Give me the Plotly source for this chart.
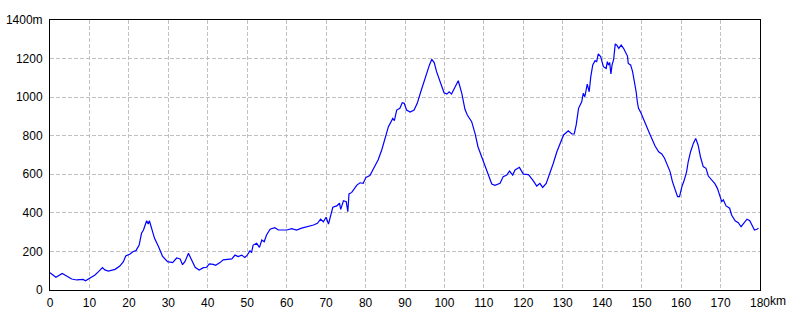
import plotly.graph_objects as go

distance_km = [
    0, 1.5, 3.1, 3.8, 5.5, 6.8, 8.4, 9.0, 10, 11.4, 12.3, 13.3, 13.9, 14.8, 16.5, 17.7,
    18.6, 19.2, 20.3, 21.1, 21.8, 22.6, 23.2, 23.7, 24.5, 24.9, 25.2, 25.8, 26.5, 27.5,
    28.5, 29.8, 31.1, 32.1, 33.0, 33.6, 34.2, 35.1, 35.9, 36.8, 37.8, 38.9, 39.7, 40.4,
    41.4, 42.0, 43.1, 43.9, 46.1, 46.9, 47.7, 48.6, 49.4, 50.0, 50.7, 51.1, 51.5, 52.4,
    53.1, 53.7, 54.3, 54.9, 55.8, 57.0, 57.9, 60.0, 61.3, 62.5, 63.8, 65.5, 66.8, 67.8,
    68.6, 69.3, 70.0, 70.6, 71.2, 71.7, 72.7, 73.4, 73.7, 74.4, 75.1, 75.5, 75.8, 76.5,
    77.8, 78.6, 79.4, 80.1, 81.1, 82.0, 83.2, 84.1, 84.9, 85.8, 86.9, 87.3, 87.9, 88.7,
    89.3, 89.8, 90.4, 91.3, 92.3, 93.1, 94.0, 94.8, 95.5, 96.2, 96.8, 97.4, 98.0, 98.9,
    99.9, 100.6, 101.2, 101.8, 102.7, 103.5, 104.4, 105.2, 105.8, 106.9, 107.8, 108.5,
    109.5, 110.3, 111.1, 112.0, 112.8, 114.1, 114.9, 115.8, 116.5, 117.3, 117.9, 119.0,
    120.0, 121.3, 122.4, 123.4, 124.2, 124.9, 125.8, 126.8, 127.6, 128.5, 129.3, 130.2,
    131.4, 132.3, 132.9, 133.4, 134.0, 134.8, 135.2, 135.6, 136.2, 136.7, 137.1, 137.6,
    138.2, 138.6, 139.0, 139.6, 140.3, 141.0, 141.3, 141.6, 141.9, 142.2, 142.5, 142.9,
    143.3, 143.7, 144.2, 144.8, 145.4, 145.8, 146.4, 146.6, 147.2, 147.7, 148.1, 148.6,
    148.9, 149.2, 149.8, 150.4, 151.1, 152.0, 152.7, 153.4, 154.3, 155.1, 155.8, 156.6,
    157.2, 157.8, 158.5, 159.1, 159.6, 160.2, 160.8, 161.4, 161.8, 162.4, 163.1, 163.7,
    164.3, 164.9, 165.6, 166.3, 166.9, 167.7, 168.6, 169.2, 169.9, 170.3, 170.7, 171.4,
    172.3, 172.8, 173.7, 174.5, 175.2, 175.8, 176.7, 177.4, 178.0, 178.6, 179.2, 179.6,
]

elevation_m = [
    90, 66, 86, 78, 57, 52, 55, 48, 59, 78, 95, 116, 104, 98, 107, 124,
    147, 176, 187, 200, 204, 233, 294, 311, 359, 342, 359, 320, 268, 225,
    176, 147, 142, 166, 161, 131, 147, 190, 156, 118, 104, 116, 118, 135,
    133, 128, 142, 156, 161, 181, 173, 181, 169, 181, 204, 194, 233, 242,
    221, 259, 250, 285, 315, 323, 311, 311, 318, 311, 321, 328, 337, 346,
    367, 354, 377, 342, 398, 429, 436, 450, 418, 463, 458, 406, 498, 506,
    544, 556, 553, 584, 593, 630, 675, 726, 786, 847, 890, 878, 933, 942,
    971, 968, 933, 923, 933, 968, 1028, 1080, 1132, 1167, 1196, 1179, 1132, 1080,
    1023, 1016, 1028, 1016, 1054, 1085, 1020, 937, 907, 873, 808, 743,
    687, 644, 605, 550, 543, 553, 588, 596, 617, 596, 622, 636,
    601, 598, 570, 539, 553, 532, 553, 605, 657, 717, 760, 804,
    826, 809, 809, 856, 942, 976, 1020, 1002, 1068, 1028, 1106, 1167,
    1189, 1184, 1224, 1210, 1158, 1149, 1184, 1167, 1179, 1120, 1167, 1196,
    1276, 1270, 1253, 1270, 1253, 1236, 1213, 1175, 1167, 1132, 1089, 1028,
    976, 942, 919, 885, 856, 812, 781, 747, 717, 705, 683, 648,
    614, 562, 515, 484, 484, 536, 570, 614, 665, 717, 760, 786,
    752, 691, 640, 631, 591, 570, 550, 527, 475, 458, 467, 436,
    424, 389, 359, 349, 328, 346, 367, 359, 332, 311, 315, 320,
]

x_tick_vals = [0, 10, 20, 30, 40, 50, 60, 70, 80, 90, 100, 110, 120, 130, 140, 150, 160, 170, 180]
x_tick_text = ["0", "10", "20", "30", "40", "50", "60", "70", "80", "90", "100", "110",
               "120", "130", "140", "150", "160", "170", "180"]
y_tick_vals = [0, 200, 400, 600, 800, 1000, 1200, 1400]
y_tick_text = ["0", "200", "400", "600", "800", "1000", "1200", "1400m"]
x_unit = "km"

font = dict(family="Liberation Sans, Arial, sans-serif", size=12, color="#000000")

fig = go.Figure()
fig.add_trace(go.Scatter(
    x=distance_km, y=elevation_m, mode="lines",
    line=dict(color="#0000ff", width=1.2),
    hoverinfo="skip", showlegend=False,
))

axis_common = dict(
    showgrid=True, gridcolor="#c0c0c0", gridwidth=1, griddash="4px,2px",
    showline=True, linecolor="#000000", linewidth=1, mirror=True,
    ticks="", zeroline=False, tickfont=font, fixedrange=True, automargin=False,
)

fig.update_xaxes(range=[0, 180], tickmode="array", tickvals=x_tick_vals,
                 ticktext=x_tick_text, ticklabelstandoff=2, **axis_common)
fig.update_yaxes(range=[0, 1400], tickmode="array", tickvals=y_tick_vals,
                 ticktext=y_tick_text, ticklabelstandoff=4, **axis_common)

fig.add_annotation(x=180, y=0, xref="x", yref="y", text=x_unit, showarrow=False,
                   xanchor="left", yanchor="top", xshift=8, yshift=-2, font=font)

fig.update_layout(
    width=800, height=320,
    margin=dict(l=50, r=40, t=20, b=30, pad=0, autoexpand=False),
    paper_bgcolor="#ffffff", plot_bgcolor="#ffffff",
    font=font,
)

fig.write_html("out.html", config={"displayModeBar": False})
